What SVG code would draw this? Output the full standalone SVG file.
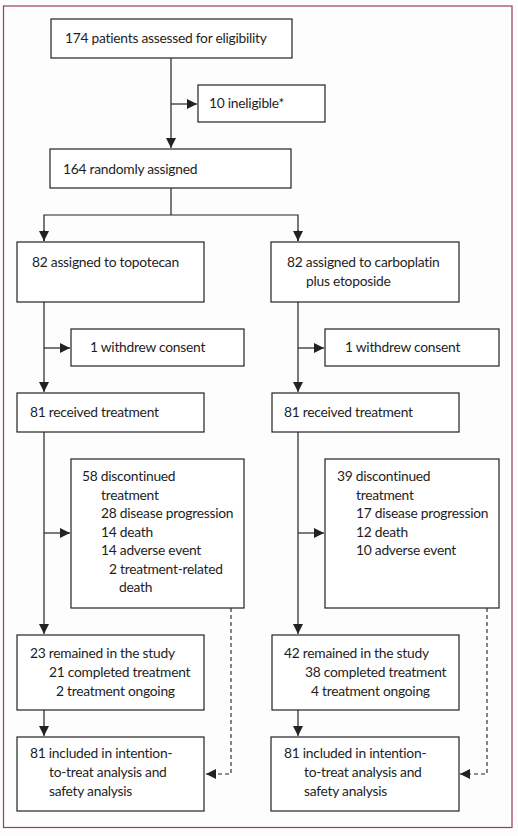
<svg xmlns="http://www.w3.org/2000/svg" width="518" height="836" viewBox="0 0 518 836">
<defs>
<style>
text{font-family:Lato,"Open Sans","DejaVu Sans",sans-serif;font-size:13.8px;letter-spacing:-0.25px;fill:#1e1e1e;}
.box{fill:#fff;stroke:#222;stroke-width:1.2;}
.ln{fill:none;stroke:#222;stroke-width:1.2;}
.dash{fill:none;stroke:#222;stroke-width:1.1;stroke-dasharray:4,3;}
</style>
<marker id="ah" viewBox="0 0 10 10" refX="10" refY="5" markerWidth="10" markerHeight="10" markerUnits="userSpaceOnUse" orient="auto">
<path d="M0,0 L10,5 L0,10 Z" fill="#222"/>
</marker>
</defs>
<rect x="0" y="0" width="518" height="836" fill="#fdfdfd"/>
<rect x="3.5" y="6" width="508.5" height="821.5" fill="none" stroke="#9b3a63" stroke-width="1.2"/>

<g id="connectors">
<line class="ln" x1="171" y1="58" x2="171" y2="148" marker-end="url(#ah)"/>
<line class="ln" x1="171" y1="104" x2="197" y2="104" marker-end="url(#ah)"/>
<polyline class="ln" points="171,188 171,215"/>
<polyline class="ln" points="44,241 44,215 298,215 298,241"/>
<line class="ln" x1="44" y1="230" x2="44" y2="241" marker-end="url(#ah)"/>
<line class="ln" x1="298" y1="230" x2="298" y2="241" marker-end="url(#ah)"/>
<line class="ln" x1="44" y1="302" x2="44" y2="392" marker-end="url(#ah)"/>
<line class="ln" x1="44" y1="348" x2="70" y2="348" marker-end="url(#ah)"/>
<line class="ln" x1="298" y1="302" x2="298" y2="392" marker-end="url(#ah)"/>
<line class="ln" x1="298" y1="348" x2="324" y2="348" marker-end="url(#ah)"/>
<line class="ln" x1="44" y1="432" x2="44" y2="634" marker-end="url(#ah)"/>
<line class="ln" x1="44" y1="533" x2="70" y2="533" marker-end="url(#ah)"/>
<line class="ln" x1="298" y1="432" x2="298" y2="634" marker-end="url(#ah)"/>
<line class="ln" x1="298" y1="533" x2="324" y2="533" marker-end="url(#ah)"/>
<line class="ln" x1="44" y1="710" x2="44" y2="736" marker-end="url(#ah)"/>
<line class="ln" x1="298" y1="710" x2="298" y2="736" marker-end="url(#ah)"/>
<polyline class="dash" points="231,608 231,774 206,774" marker-end="url(#ah)"/>
<polyline class="dash" points="487,608 487,774 460,774" marker-end="url(#ah)"/>
</g>

<g id="assessed">
<rect class="box" x="51" y="19" width="241" height="39"/>
<text x="65" y="43">174 patients assessed for eligibility</text>
</g>
<g id="ineligible">
<rect class="box" x="198" y="85" width="127" height="37"/>
<text x="209" y="108">10 ineligible*</text>
</g>
<g id="randomised">
<rect class="box" x="50" y="149" width="241" height="39"/>
<text x="63" y="174">164 randomly assigned</text>
</g>
<g id="topotecan">
<rect class="box" x="17" y="242" width="187" height="60"/>
<text x="32" y="267">82 assigned to topotecan</text>
</g>
<g id="carboplatin">
<rect class="box" x="271" y="242" width="188" height="60"/>
<text x="287" y="267">82 assigned to carboplatin</text>
<text x="306" y="286">plus etoposide</text>
</g>
<g id="withdrew-left">
<rect class="box" x="71" y="329" width="173" height="37"/>
<text x="90" y="352">1 withdrew consent</text>
</g>
<g id="withdrew-right">
<rect class="box" x="325" y="329" width="174" height="37"/>
<text x="345" y="352">1 withdrew consent</text>
</g>
<g id="received-left">
<rect class="box" x="17" y="393" width="187" height="39"/>
<text x="30" y="417">81 received treatment</text>
</g>
<g id="received-right">
<rect class="box" x="272" y="393" width="187" height="39"/>
<text x="284" y="417">81 received treatment</text>
</g>
<g id="discontinued-left">
<rect class="box" x="71" y="459" width="173" height="149"/>
<text x="82" y="481">58 discontinued</text>
<text x="101" y="499.5">treatment</text>
<text x="101" y="518">28 disease progression</text>
<text x="101" y="536.5">14 death</text>
<text x="101" y="555">14 adverse event</text>
<text x="109" y="573.5">2 treatment-related</text>
<text x="119" y="592">death</text>
</g>
<g id="discontinued-right">
<rect class="box" x="325" y="459" width="174" height="149"/>
<text x="337" y="481">39 discontinued</text>
<text x="356" y="499.5">treatment</text>
<text x="356" y="518">17 disease progression</text>
<text x="356" y="536.5">12 death</text>
<text x="356" y="555">10 adverse event</text>
</g>
<g id="remained-left">
<rect class="box" x="17" y="635" width="187" height="75"/>
<text x="30" y="658">23 remained in the study</text>
<text x="49" y="677">21 completed treatment</text>
<text x="56" y="696">2 treatment ongoing</text>
</g>
<g id="remained-right">
<rect class="box" x="272" y="635" width="187" height="75"/>
<text x="284" y="658">42 remained in the study</text>
<text x="305" y="677">38 completed treatment</text>
<text x="311" y="696">4 treatment ongoing</text>
</g>
<g id="itt-left">
<rect class="box" x="17" y="737" width="187" height="74"/>
<text x="30" y="758">81 included in intention-</text>
<text x="49" y="777">to-treat analysis and</text>
<text x="49" y="796">safety analysis</text>
</g>
<g id="itt-right">
<rect class="box" x="271" y="737" width="188" height="74"/>
<text x="284" y="758">81 included in intention-</text>
<text x="304" y="777">to-treat analysis and</text>
<text x="304" y="796">safety analysis</text>
</g>
</svg>
